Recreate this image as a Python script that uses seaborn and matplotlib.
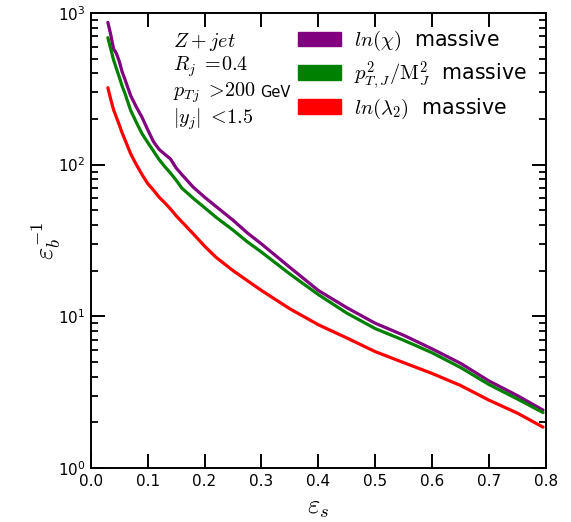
import numpy as np
import pandas as pd
import matplotlib
matplotlib.use("Agg")
import matplotlib.pyplot as plt
import seaborn as sns
from matplotlib.patches import Patch
from matplotlib.ticker import LogLocator, NullFormatter

eps_s = [0.03, 0.035, 0.04, 0.045, 0.05, 0.055, 0.06, 0.07, 0.08, 0.09, 0.10, 0.11,
         0.12, 0.13, 0.14, 0.15, 0.16, 0.18, 0.20, 0.22, 0.25, 0.275, 0.30, 0.35,
         0.40, 0.45, 0.50, 0.55, 0.60, 0.65, 0.70, 0.75, 0.795]
chi_massive = [865, 720, 580, 540, 480, 410, 365, 285, 240, 205, 170, 142,
               126, 117, 109, 95, 86, 71, 61, 53, 43, 35.5, 30, 21,
               14.8, 11.4, 9.0, 7.5, 6.1, 4.9, 3.75, 3.0, 2.41]
pt_massive = [686, 580, 490, 430, 378, 330, 295, 228, 190, 160, 140, 123,
              108, 97, 88, 79, 70, 60, 52, 45, 37, 31, 26.5, 19.0,
              13.9, 10.5, 8.3, 6.95, 5.75, 4.6, 3.55, 2.85, 2.32]
lam_massive = [321, 270, 230, 205, 183, 162, 146, 118, 100, 86, 75, 68,
               61, 56, 51, 46, 42, 35, 29, 24.5, 20, 17.2, 14.8, 11.2,
               8.8, 7.2, 5.85, 4.95, 4.2, 3.5, 2.8, 2.3, 1.86]

labels = [r'$ln(\chi)$  massive', r'$p^2_{T,J}/\mathrm{M}^2_J$  massive',
          r'$ln(\lambda_2)$  massive']
colors = ['#800080', '#008000', '#ff0000']

df = pd.DataFrame({
    'eps': eps_s * 3,
    'inv': chi_massive + pt_massive + lam_massive,
    'series': [labels[0]] * len(eps_s) + [labels[1]] * len(eps_s) + [labels[2]] * len(eps_s),
})

sns.set_style('ticks')
plt.rcParams['mathtext.fontset'] = 'cm'
plt.rcParams['font.family'] = ['DejaVu Sans']
plt.rcParams['text.color'] = 'black'
plt.rcParams['axes.labelcolor'] = 'black'
plt.rcParams['xtick.color'] = 'black'
plt.rcParams['ytick.color'] = 'black'

fig = plt.figure(figsize=(5.71, 5.22), dpi=100)
ax = fig.add_axes([0.159, 0.1034, 0.797, 0.872])

sns.lineplot(data=df, x='eps', y='inv', hue='series', palette=colors,
             hue_order=labels, linewidth=2.3, ax=ax, legend=False)

ax.set_yscale('log')
ax.set_xlim(0, 0.8)
ax.set_ylim(1, 1000)
ax.set_xticks(np.arange(0, 0.81, 0.1))
ax.set_xticklabels([f'{v:.1f}' for v in np.arange(0, 0.81, 0.1)])
ax.yaxis.set_minor_locator(LogLocator(base=10, subs=np.arange(2, 10)))
ax.yaxis.set_minor_formatter(NullFormatter())

for s in ax.spines.values():
    s.set_linewidth(1.4)
    s.set_color('black')
ax.tick_params(which='major', direction='in', length=10, width=1.4,
               top=True, right=True, labelsize=11, pad=4)
ax.tick_params(which='minor', direction='in', length=5, width=1.3,
               right=True, left=True)
ax.tick_params(axis='x', which='minor', bottom=False, top=False)

ax.set_xlabel(r'$\varepsilon_s$', fontsize=19, labelpad=4)
ax.set_ylabel(r'$\varepsilon_b^{-1}$', fontsize=19, labelpad=-4)

tx = 173 / 571
mfs = 14.5
fig.text(tx, 1 - 47 / 522, r'$Z+jet$', fontsize=mfs, va='baseline', ha='left')
fig.text(tx, 1 - 71 / 522, r'$R_j\ =\!0.4$', fontsize=mfs, va='baseline', ha='left')
t3 = fig.text(tx, 1 - 97 / 522, r'$p_{Tj}\ >\!200$', fontsize=mfs, va='baseline', ha='left')
fig.text(tx, 1 - 124 / 522, r'$|y_j|\ <\!1.5$', fontsize=mfs, va='baseline', ha='left')
fig.canvas.draw()
bb = t3.get_window_extent(renderer=fig.canvas.get_renderer())
fig.text((bb.x1 + 4) / 571, 1 - 97 / 522, 'GeV', fontsize=10.5, va='baseline', ha='left')

handles = [Patch(facecolor=c, edgecolor=c) for c in colors]
fig.legend(handles, labels, loc='upper left', bbox_to_anchor=(298 / 571, 1 - 29 / 522),
           frameon=False, fontsize=14.8, handlelength=2.1, handleheight=0.7,
           handletextpad=0.6, labelspacing=0.28, borderpad=0, borderaxespad=0)

fig.savefig('out.png', dpi=100)
